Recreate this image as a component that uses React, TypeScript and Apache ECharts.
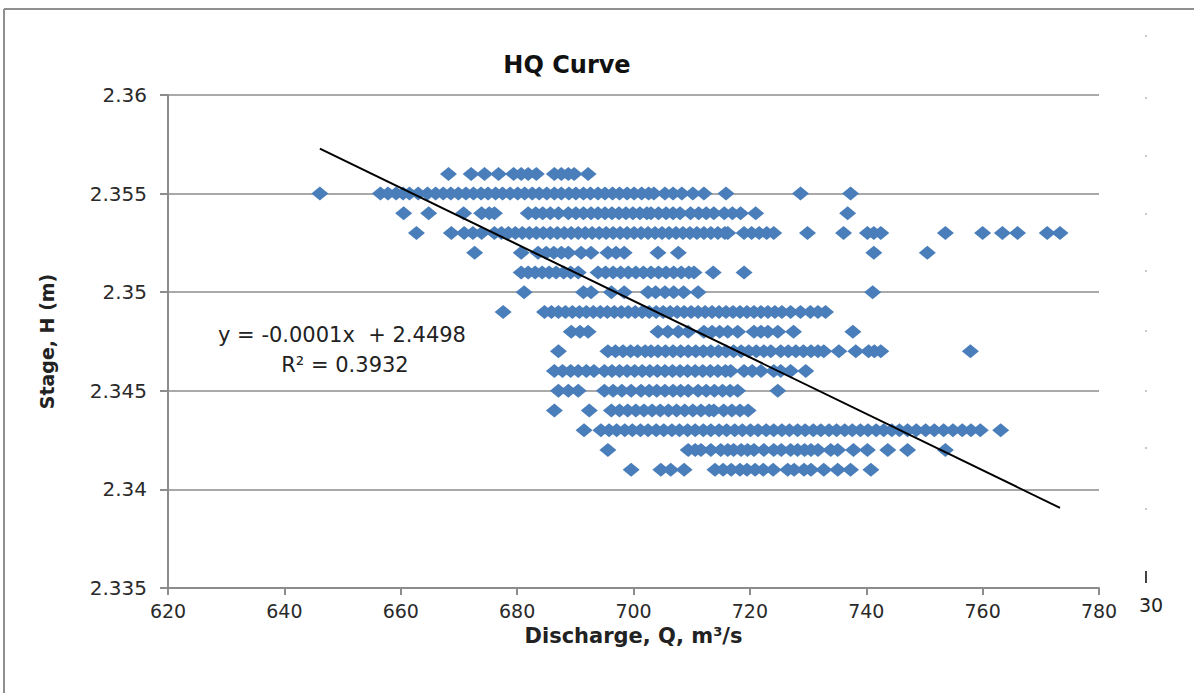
import { useEffect, useRef } from "react";
import * as echarts from "echarts";

// Stage readings (m) and the discharges (m³/s) observed at each stage
const q2356 = [668.2, 672.1, 674.4, 676.8, 679.4, 680.7, 681.9, 683.3, 686.4, 687.6, 688.8, 689.8, 692.2];
const q2355 = [646.1, 656.5, 657.8, 659.2, 660.4, 661.5, 663.0, 664.6, 666.0, 667.3, 668.6, 669.9, 671.2, 672.5, 673.8, 675.0, 676.3, 677.5, 678.8, 680.1, 681.3, 682.6, 683.8, 685.1, 686.4, 687.6, 688.9, 690.1, 691.4, 692.6, 693.9, 695.1, 696.4, 697.6, 698.9, 700.1, 701.4, 702.6, 703.5, 705.4, 706.8, 708.3, 710.2, 712.1, 715.9, 728.7, 737.3];
const q2354 = [660.5, 664.8, 670.8, 673.9, 675.2, 676.1, 681.9, 683.2, 684.4, 685.7, 687.1, 688.8, 690.1, 691.4, 692.7, 693.9, 695.1, 696.3, 697.5, 698.7, 699.9, 701.1, 702.3, 703.0, 704.3, 705.6, 706.8, 708.0, 709.8, 711.2, 712.5, 713.8, 715.6, 717.0, 718.4, 721.0, 736.8];
const q2353 = [662.7, 668.7, 670.9, 672.4, 673.9, 676.1, 677.3, 678.5, 679.7, 680.9, 682.1, 683.3, 684.5, 685.7, 686.9, 688.1, 689.3, 690.5, 691.7, 692.9, 694.1, 695.3, 696.5, 697.7, 698.9, 700.1, 701.3, 702.5, 703.7, 704.9, 706.1, 707.3, 708.5, 709.7, 710.9, 712.1, 713.3, 714.5, 715.7, 716.2, 719.0, 720.3, 721.6, 722.9, 724.1, 729.9, 736.1, 740.2, 741.3, 742.5, 753.6, 760.0, 763.4, 766.0, 771.1, 773.3];
const q2352 = [672.7, 680.7, 683.6, 685.0, 686.3, 687.6, 688.8, 691.0, 692.7, 695.6, 697.0, 698.4, 704.2, 707.7, 741.3, 750.5];
const q2351 = [680.7, 681.9, 683.1, 684.3, 685.5, 686.7, 688.0, 689.2, 690.5, 693.9, 695.2, 696.5, 697.8, 699.1, 700.4, 701.7, 703.0, 704.3, 705.6, 706.9, 708.2, 709.5, 710.4, 713.7, 719.0];
const q2350 = [681.2, 691.4, 692.7, 696.2, 698.4, 702.5, 703.8, 705.4, 706.9, 708.6, 711.1, 741.1];
const q2349 = [677.6, 684.7, 685.9, 687.1, 688.3, 689.5, 690.7, 691.9, 693.1, 694.3, 695.5, 696.7, 697.9, 699.1, 700.3, 701.5, 702.7, 703.9, 705.1, 706.3, 707.5, 708.7, 709.9, 711.1, 712.3, 713.5, 714.7, 715.9, 717.1, 718.3, 719.5, 720.7, 721.9, 723.1, 724.3, 725.5, 727.0, 728.7, 730.4, 731.7, 733.0];
const q2348 = [689.3, 690.8, 692.2, 704.2, 705.9, 707.7, 709.4, 712.1, 713.5, 714.8, 716.2, 717.9, 720.7, 721.9, 723.1, 724.8, 727.5, 737.7];
const q2347 = [687.1, 695.6, 696.9, 698.2, 699.5, 700.7, 702.0, 703.0, 704.2, 705.5, 706.8, 708.1, 709.4, 710.7, 712.0, 713.3, 714.6, 715.9, 717.2, 718.5, 719.8, 721.1, 722.4, 723.6, 725.3, 726.6, 727.9, 729.2, 730.5, 731.7, 732.7, 735.3, 738.2, 740.4, 741.4, 742.5, 757.9];
const q2346 = [686.4, 687.8, 689.2, 690.5, 691.9, 693.2, 695.0, 696.3, 697.6, 698.9, 700.2, 701.5, 702.8, 704.1, 705.4, 706.7, 708.0, 709.3, 710.6, 711.9, 713.2, 714.5, 715.8, 716.7, 719.0, 720.4, 721.9, 724.1, 725.3, 727.0, 729.6];
const q2345 = [687.1, 688.8, 690.5, 695.0, 696.5, 698.0, 699.6, 701.3, 702.7, 704.0, 705.4, 706.8, 708.1, 709.4, 711.1, 712.5, 713.9, 715.3, 716.6, 717.9, 724.8];
const q2344 = [686.4, 692.4, 696.2, 697.6, 699.0, 700.4, 701.8, 703.2, 704.6, 706.0, 707.4, 708.8, 710.2, 711.6, 713.0, 713.8, 715.5, 716.9, 718.3, 719.7];
const q2343 = [691.5, 694.4, 695.8, 697.1, 698.5, 699.8, 701.2, 702.5, 703.9, 705.2, 706.6, 707.9, 709.3, 710.6, 712.0, 713.3, 714.7, 716.0, 717.4, 718.7, 720.1, 721.4, 722.8, 724.1, 725.5, 726.8, 728.2, 729.5, 730.9, 732.2, 733.6, 734.9, 736.3, 737.6, 739.0, 740.3, 741.7, 743.0, 744.4, 745.7, 747.1, 748.6, 750.2, 751.7, 753.3, 754.9, 756.5, 758.0, 759.6, 763.1];
const q2342 = [695.6, 709.4, 710.6, 711.6, 713.3, 715.0, 716.2, 717.2, 718.5, 719.6, 720.7, 722.4, 724.1, 725.4, 727.0, 728.2, 729.4, 730.5, 731.7, 733.9, 735.1, 737.8, 740.2, 743.7, 747.1, 753.6];
const q2341 = [699.6, 704.7, 706.4, 708.7, 714.0, 715.4, 716.8, 718.3, 719.5, 720.9, 722.3, 724.0, 726.5, 727.6, 729.3, 730.5, 732.7, 735.1, 737.3, 740.8];

const stageRows: [number, number[]][] = [
  [2.356, q2356], [2.355, q2355], [2.354, q2354], [2.353, q2353],
  [2.352, q2352], [2.351, q2351], [2.35, q2350], [2.349, q2349],
  [2.348, q2348], [2.347, q2347], [2.346, q2346], [2.345, q2345],
  [2.344, q2344], [2.343, q2343], [2.342, q2342], [2.341, q2341],
];

// Linear trend fitted to the observations
const trendSlope = -0.0001432;
const trendIntercept = 2.4498;
const trendQ = [646.1, 773.3];
const trendLabel = "y = -0.0001x  + 2.4498";
const r2Label = "R² = 0.3932";

const xTicks = { min: 620, max: 780, interval: 20 };
const yTicks = { min: 2.335, max: 2.36, interval: 0.005 };

const FONT = "DejaVu Sans";

export default function App() {
  const ref = useRef<HTMLDivElement>(null);

  useEffect(() => {
    if (!ref.current) return;
    const chart = echarts.init(ref.current, null, { renderer: "svg" });
    const points: number[][] = [];
    stageRows.forEach(([h, qs]) => qs.forEach((q) => points.push([q, h])));
    const trend = trendQ.map((q) => [q, trendIntercept + trendSlope * q]);

    const rightDots = [35, 97, 155, 213, 270, 330, 390, 447, 508].map((y) => ({
      type: "rect",
      shape: { x: 1145, y, width: 2, height: 2 },
      style: { fill: "#c8c8c8" },
      silent: true,
    }));

    chart.setOption({
      animation: false,
      backgroundColor: "#ffffff",
      title: {
        text: "HQ Curve",
        left: 562,
        top: 48,
        textAlign: "center",
        textStyle: { fontFamily: FONT, fontSize: 24, fontWeight: "bold", color: "#111" },
      },
      grid: { left: 168, right: 95, top: 95, bottom: 105 },
      xAxis: {
        type: "value",
        min: xTicks.min,
        max: xTicks.max,
        interval: xTicks.interval,
        name: "Discharge, Q, m³/s",
        nameLocation: "middle",
        nameGap: 37,
        nameTextStyle: { fontFamily: FONT, fontSize: 21, fontWeight: "bold", color: "#222" },
        axisLine: { show: true, lineStyle: { color: "#8c8c8c", width: 2 } },
        axisTick: { show: true, inside: false, length: 7, lineStyle: { color: "#8c8c8c", width: 2 } },
        axisLabel: { margin: 13, fontFamily: FONT, fontSize: 19, color: "#2a2a2a" },
        splitLine: { show: false },
      },
      yAxis: {
        type: "value",
        min: yTicks.min,
        max: yTicks.max,
        interval: yTicks.interval,
        name: "Stage, H (m)",
        nameLocation: "middle",
        nameRotate: 90,
        nameGap: 112,
        nameTextStyle: { fontFamily: FONT, fontSize: 19, fontWeight: "bold", color: "#222" },
        axisLine: { show: true, lineStyle: { color: "#8c8c8c", width: 2 } },
        axisTick: { show: true, inside: false, length: 8, lineStyle: { color: "#8c8c8c", width: 2 } },
        axisLabel: {
          margin: 21,
          fontFamily: FONT,
          fontSize: 20,
          color: "#2a2a2a",
          formatter: (v: number) => String(parseFloat(v.toFixed(3))),
        },
        splitLine: { show: true, lineStyle: { color: "#a9a9a9", width: 2 } },
      },
      series: [
        {
          type: "scatter",
          data: points,
          symbol: "diamond",
          symbolSize: [17, 14],
          itemStyle: { color: "#4a7ebb", opacity: 1 },
          z: 2,
        },
        {
          type: "line",
          data: trend,
          symbol: "none",
          lineStyle: { color: "#000", width: 2 },
          z: 3,
        },
      ],
      graphic: [
        {
          type: "line",
          shape: { x1: 4, y1: 9, x2: 1194, y2: 9 },
          style: { stroke: "#8f8f8f", lineWidth: 2 },
          silent: true,
        },
        {
          type: "line",
          shape: { x1: 4, y1: 9, x2: 4, y2: 693 },
          style: { stroke: "#8f8f8f", lineWidth: 2 },
          silent: true,
        },
        {
          type: "text",
          x: 342,
          y: 335,
          style: { text: trendLabel, font: `21px "${FONT}"`, fill: "#222", textAlign: "center", textVerticalAlign: "middle" },
        },
        {
          type: "text",
          x: 345,
          y: 365,
          style: { text: r2Label, font: `21px "${FONT}"`, fill: "#222", textAlign: "center", textVerticalAlign: "middle" },
        },
        {
          type: "text",
          x: 1151,
          y: 605,
          style: { text: "30", font: `19px "${FONT}"`, fill: "#222", textAlign: "center", textVerticalAlign: "middle" },
        },
        {
          type: "rect",
          shape: { x: 1145, y: 571, width: 2, height: 12 },
          style: { fill: "#444" },
          silent: true,
        },
        ...rightDots,
      ],
    });
    return () => chart.dispose();
  }, []);

  return <div ref={ref} style={{ position: "fixed", left: 0, top: 0, width: 1194, height: 693 }} />;
}
